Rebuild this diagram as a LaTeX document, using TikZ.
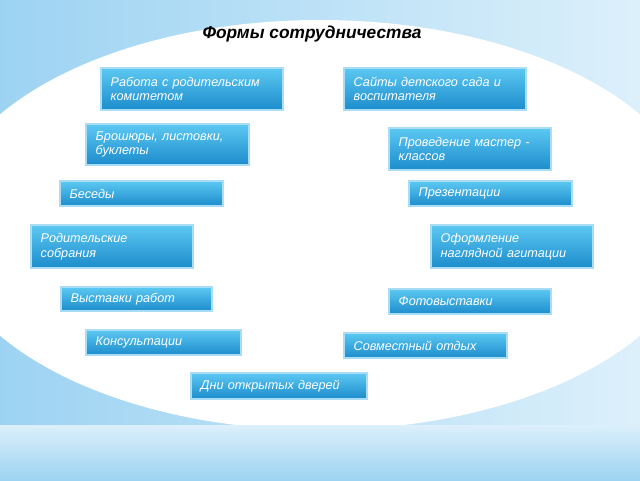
\documentclass[tikz,border=0pt]{standalone}
\usepackage{fontspec}
\setmainfont{Liberation Sans}
\begin{document}
\begin{tikzpicture}[x=0.75pt,y=-0.75pt,
  bx/.style={draw=bord,line width=2.2pt,top color=btop,bottom color=bbot,inner sep=0pt},
  tx/.style={anchor=west,text=white,font=\itshape\fontsize{9.5}{11}\selectfont,align=left,text width=180}]
\definecolor{bg}{HTML}{9DD3F2}
\definecolor{bgl}{HTML}{DCF0FB}
\definecolor{bord}{HTML}{A8DDF5}
\definecolor{btop}{HTML}{5CC8F2}
\definecolor{bbot}{HTML}{1C8CCC}
\useasboundingbox (0,0) rectangle (640,480);
\shade[left color=bg,right color=bgl] (0,0) rectangle (640,480);
\fill[white] (320,225) ellipse [x radius=380, y radius=205];
\shade[top color=bgl,bottom color=bg] (0,425) rectangle (640,480);
\node[font=\bfseries\itshape\fontsize{13}{15}\selectfont] (title) at (312,34) {Формы сотрудничества};
\foreach \n/\a/\b/\c/\d/\t in {
 b1/101/68/283/110/{Работа с родительским\\комитетом},
 b2/344/68/526/110/{Сайты детского сада и\\воспитателя},
 b3/86/124/249/165/{Брошюры, листовки,\\буклеты},
 b4/389/128/551/170/{Проведение мастер -\\классов},
 b5/60/181/223/206/{Беседы},
 b6/409/181/572/206/{Презентации},
 b7/31/225/193/268/{Родительские\\собрания},
 b8/431/225/593/268/{Оформление\\наглядной агитации},
 b9/61/287/212/311/{Выставки работ},
 b10/389/289/551/314/{Фотовыставки},
 b11/86/330/241/355/{Консультации},
 b12/344/333/507/358/{Совместный отдых},
 b13/191/373/367/399/{Дни открытых дверей}}{
  \path[bx] (\a,\b) rectangle (\c,\d);
  \node[tx] (\n) at ({\a+5},{(\b+\d)/2}) {\t};
}
\end{tikzpicture}
\end{document}
